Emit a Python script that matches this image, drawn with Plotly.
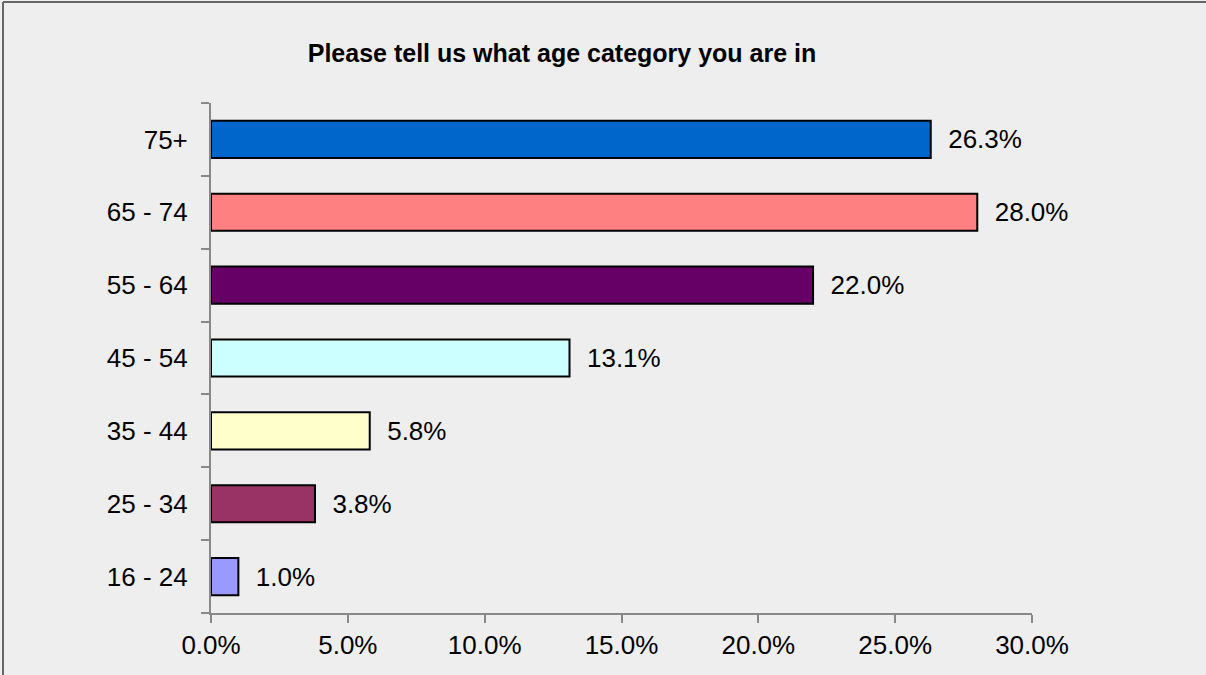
import plotly.graph_objects as go

# Age bands (bottom to top) and share of respondents in each
age_bands = ["16 - 24", "25 - 34", "35 - 44", "45 - 54", "55 - 64", "65 - 74", "75+"]
shares = [1.0, 3.8, 5.8, 13.1, 22.0, 28.0, 26.3]
bar_colors = ["#9999FF", "#993366", "#FFFFCC", "#CCFFFF", "#660066", "#FF8080", "#0066CC"]
x_ticks = [0, 5, 10, 15, 20, 25, 30]

FONT = "Liberation Sans, Arial, sans-serif"
BG = "#EEEEEE"
AXIS = "#888888"
SIZE = 26

fig = go.Figure(
    go.Bar(
        y=age_bands,
        x=shares,
        orientation="h",
        marker=dict(color=bar_colors, line=dict(color="#000000", width=2)),
        text=[f"{v:.1f}%" for v in shares],
        texttemplate="  %{text}",
        textposition="outside",
        textfont=dict(family=FONT, size=SIZE, color="#000000"),
        cliponaxis=False,
        hoverinfo="skip",
    )
)

fig.update_layout(
    width=1206,
    height=675,
    paper_bgcolor=BG,
    plot_bgcolor=BG,
    margin=dict(l=211, r=174, t=103, b=62),
    bargap=0.49,
    showlegend=False,
    font=dict(family=FONT, size=SIZE, color="#000000"),
    title=dict(
        text="<b>Please tell us what age category you are in</b>",
        x=562 / 1206,
        xanchor="center",
        y=1 - 53 / 675,
        yanchor="middle",
        font=dict(family=FONT, size=25, color="#000000"),
    ),
    xaxis=dict(
        range=[0, 30],
        tickvals=x_ticks,
        ticktext=[f"{t:.1f}%" for t in x_ticks],
        showgrid=False,
        zeroline=False,
        showline=True,
        linecolor=AXIS,
        linewidth=2,
        ticks="outside",
        ticklen=8,
        tickwidth=2,
        tickcolor=AXIS,
        tickfont=dict(family=FONT, size=SIZE, color="#000000"),
        fixedrange=True,
    ),
    yaxis=dict(
        categoryorder="array",
        categoryarray=age_bands,
        showgrid=False,
        zeroline=False,
        showline=True,
        linecolor=AXIS,
        linewidth=2,
        ticks="outside",
        tickson="boundaries",
        ticklen=8,
        tickwidth=2,
        tickcolor=AXIS,
        ticklabelstandoff=16,
        tickfont=dict(family=FONT, size=SIZE, color="#000000"),
        fixedrange=True,
    ),
)

# Frame lines along the left and top edges of the chart
left = (3 - 211) / 821
right = (1206 - 211) / 821
top = 1 + (103 - 2) / 510
bottom = (613 - 675) / 510
fig.add_shape(type="line", xref="paper", yref="paper", x0=left, x1=left, y0=bottom, y1=top,
              line=dict(color="#666666", width=2))
fig.add_shape(type="line", xref="paper", yref="paper", x0=left, x1=right, y0=top, y1=top,
              line=dict(color="#666666", width=2))

fig.write_html("out.html")
